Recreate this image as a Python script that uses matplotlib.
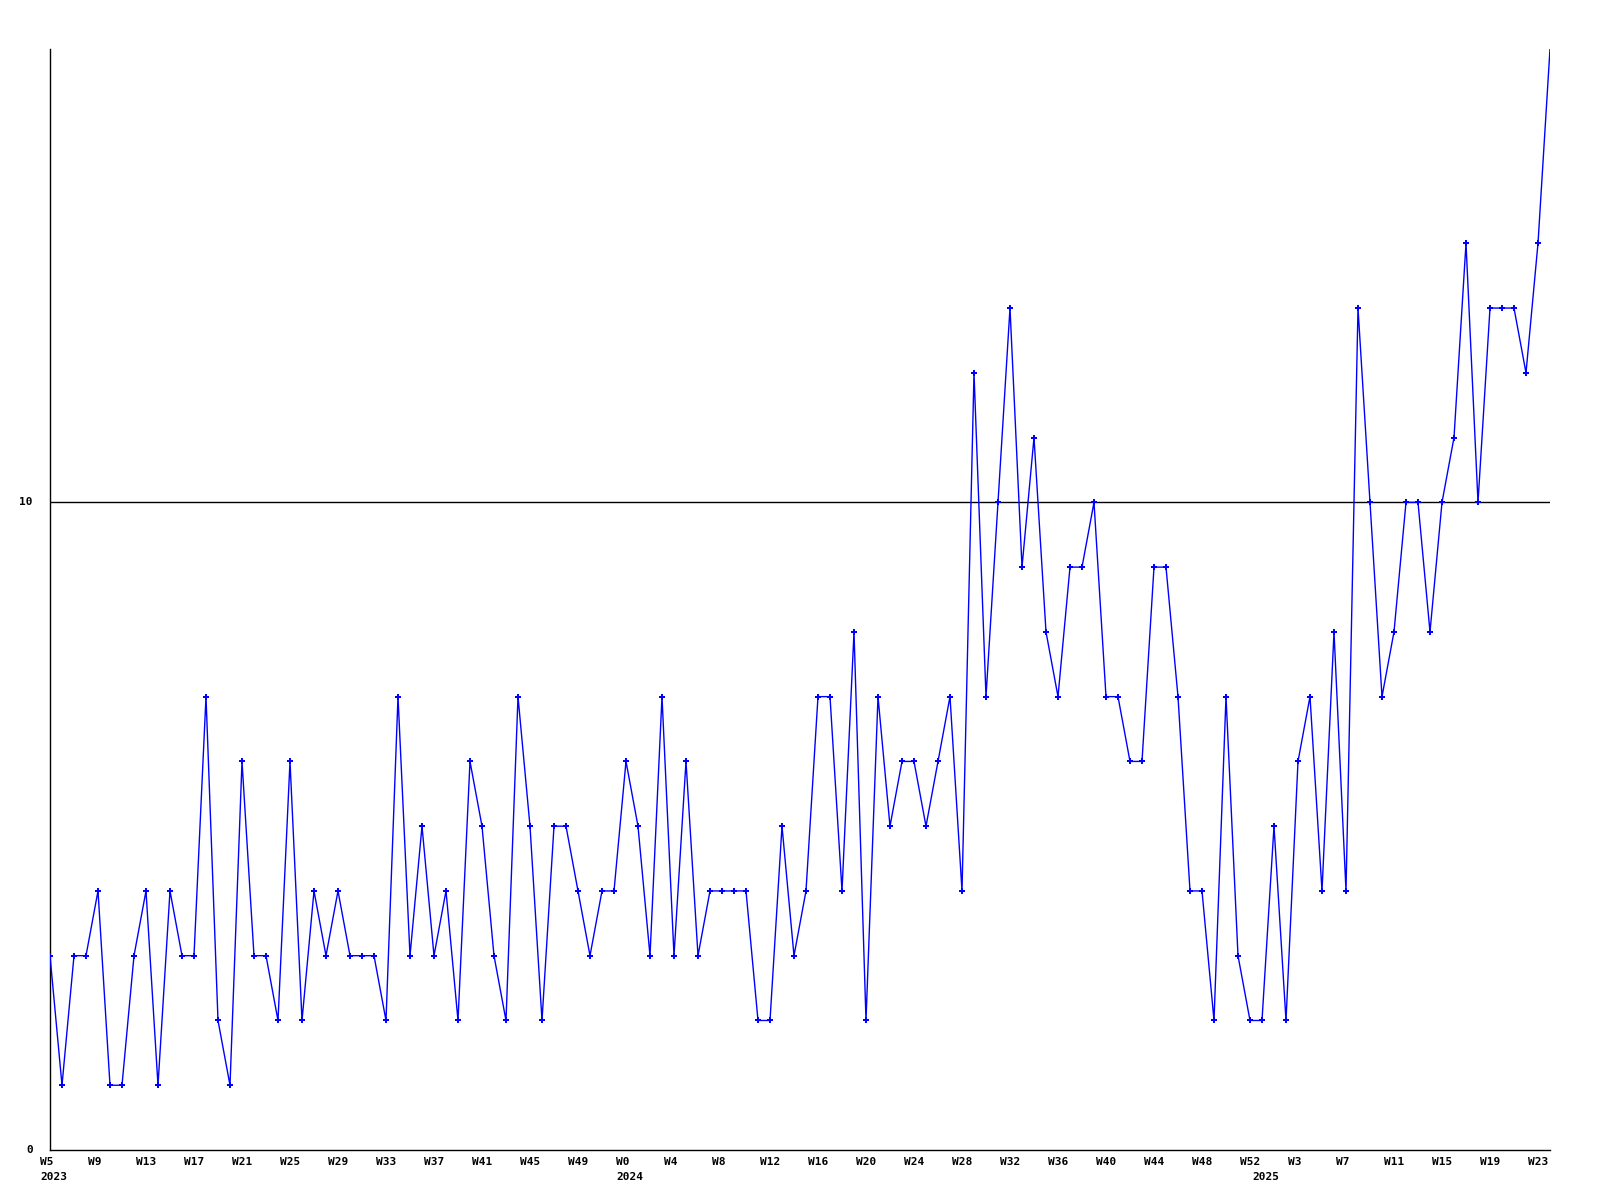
import matplotlib
matplotlib.use("Agg")
import matplotlib.pyplot as plt
from matplotlib.transforms import ScaledTranslation

values = [3, 1, 3, 3, 4, 1, 1, 3, 4, 1, 4, 3, 3, 7, 2, 1, 6, 3, 3, 2,
          6, 2, 4, 3, 4, 3, 3, 3, 2, 7, 3, 5, 3, 4, 2, 6, 5, 3, 2, 7,
          5, 2, 5, 5, 4, 3, 4, 4, 6, 5, 3, 7, 3, 6, 3, 4, 4, 4, 4, 2,
          2, 5, 3, 4, 7, 7, 4, 8, 2, 7, 5, 6, 6, 5, 6, 7, 4, 12, 7, 10,
          13, 9, 11, 8, 7, 9, 9, 10, 7, 7, 6, 6, 9, 9, 7, 4, 4, 2, 7, 3,
          2, 2, 5, 2, 6, 7, 4, 8, 4, 13, 10, 7, 8, 10, 10, 8, 10, 11, 14, 10,
          13, 13, 13, 12, 14, 17]

week_labels = ["W5", "W9", "W13", "W17", "W21", "W25", "W29", "W33", "W37", "W41",
               "W45", "W49", "W0", "W4", "W8", "W12", "W16", "W20", "W24", "W28",
               "W32", "W36", "W40", "W44", "W48", "W52", "W3", "W7", "W11", "W15",
               "W19", "W23"]
week_positions = [0, 4, 8, 12, 16, 20, 24, 28, 32, 36, 40, 44, 48, 52, 56, 60, 64,
                  68, 72, 76, 80, 84, 88, 92, 96, 100, 104, 108, 112, 116, 120, 124]
year_labels = ["2023", "2024", "2025"]
year_positions = [0, 48, 101]

fig = plt.figure(figsize=(16, 12), dpi=100)
ax = fig.add_axes([50/1600, 50/1200, 1500/1600, 1101/1200])

x = list(range(len(values)))
ax.plot(x, values, color="#0000ff", linewidth=1.0, marker="P", markersize=4.5,
        markeredgewidth=0, markevery=list(range(len(values) - 1)), zorder=3)
ax.axhline(10, color="black", linewidth=1.0, zorder=2)

ax.set_xlim(0, len(values) - 1)
ax.set_ylim(0, 17)

for s in ["top", "right"]:
    ax.spines[s].set_visible(False)
for s in ["left", "bottom"]:
    ax.spines[s].set_linewidth(1.0)
    ax.spines[s].set_color("black")

ax.set_xticks([])
ax.set_yticks([])

font = dict(family="DejaVu Sans Mono", fontweight="bold", fontsize=8)
off = ScaledTranslation(-10/100, 0, fig.dpi_scale_trans)
trans = ax.get_xaxis_transform() + off
for p, lab in zip(week_positions, week_labels):
    ax.text(p, 0, lab, transform=trans + ScaledTranslation(0, -12/100, fig.dpi_scale_trans),
            ha="left", va="center", clip_on=False, **font)
for p, lab in zip(year_positions, year_labels):
    ax.text(p, 0, lab, transform=trans + ScaledTranslation(0, -27/100, fig.dpi_scale_trans),
            ha="left", va="center", clip_on=False, **font)

ytrans = ax.get_yaxis_transform() + ScaledTranslation(-17/100, 0, fig.dpi_scale_trans)
for v in [0, 10]:
    ax.text(0, v, str(v), transform=ytrans, ha="right", va="center", clip_on=False, **font)

fig.savefig("out.png", dpi=100)
